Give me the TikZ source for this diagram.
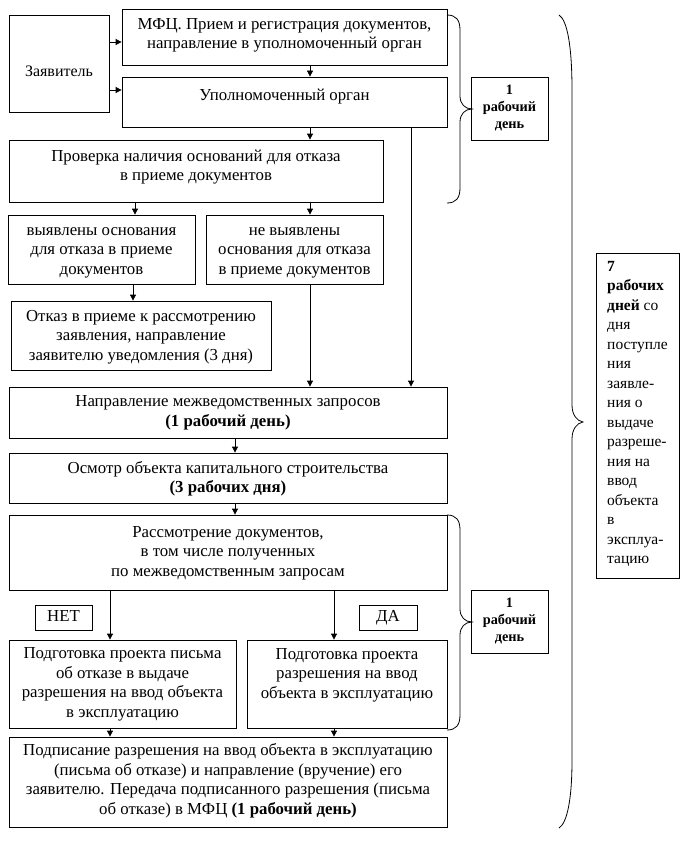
\documentclass[tikz,border=0pt]{standalone}
\usepackage{fontspec}
\setmainfont{Liberation Serif}
\usetikzlibrary{arrows.meta}
\newcommand\bx[7]{%
 \node[box, minimum width={(#4)-(#2)}, minimum height={(#5)-(#3)}] (#1) at ({((#2)+(#4))/2},{((#3)+(#5))/2}) {};
 \node[txt] (#1t) at ({((#2)+(#4))/2},#6) {#7};}
\begin{document}
\begin{tikzpicture}[x=1pt,y=-1pt,
 box/.style={draw, line width=0.8pt, inner sep=0pt},
 txt/.style={align=center, inner sep=0pt, font=\fontsize{16.8}{19.5}\selectfont},
 dtxt/.style={align=center, inner sep=0pt, font=\fontsize{14.3}{17}\selectfont\bfseries},
 stxt/.style={align=left, inner sep=0pt, font=\fontsize{15.5}{19.5}\selectfont},
 arr/.style={line width=0.8pt, -{Triangle[length=6pt,width=6pt]}},
 ln/.style={line width=0.8pt}]
\useasboundingbox[fill=white] (0,0) rectangle (692,843);

\bx{zay}{9}{15}{109}{112}{71}{\fontsize{16}{19.5}\selectfont Заявитель}
\bx{mfc}{122}{9}{447}{65}{35.5}{МФЦ. Прием и регистрация документов,\\направление в уполномоченный орган}
\bx{upo}{122}{77}{447}{127}{97}{Уполномоченный орган}
\bx{prov}{9}{140}{383}{202}{167}{Проверка наличия оснований для отказа\\в приеме документов}
\bx{yes}{8}{215}{195}{284}{252.5}{выявлены основания\\для отказа в приеме\\документов}
\bx{no}{206}{215}{383}{284}{252.5}{не выявлены\\основания для отказа\\в приеме документов}
\bx{otk}{11}{301}{271}{370}{337}{Отказ в приеме к рассмотрению\\заявления, направление\\заявителю уведомления (3 дня)}
\bx{napr}{9}{387}{447}{438}{413}{Направление межведомственных запросов\\\textbf{(1 рабочий день)}}
\bx{osm}{9}{453}{447}{503}{479}{Осмотр объекта капитального строительства\\\textbf{(3 рабочих дня)}}
\bx{rass}{9}{515}{447}{590}{553}{Рассмотрение документов,\\в том числе полученных\\по межведомственным запросам}
\bx{net}{35}{605}{92}{630}{618}{\strut НЕТ}
\bx{da}{359}{605}{417}{630}{618}{\strut ДА}
\bx{pl}{9}{640}{236}{728}{684.5}{Подготовка проекта письма\\об отказе в выдаче\\разрешения на ввод объекта\\в эксплуатацию}
\bx{pr}{247}{640}{447}{728}{675}{Подготовка проекта\\разрешения на ввод\\объекта в эксплуатацию}
\bx{pod}{9}{737}{447}{827}{781}{Подписание разрешения на ввод объекта в эксплуатацию\\(письма об отказе) и направление (вручение) его\\заявителю. Передача подписанного разрешения (письма\\об отказе) в МФЦ \textbf{(1 рабочий день)}}

\node[box, minimum width=77, minimum height=63] (d1) at (509.5,108.5) {};
\node[dtxt] (d1t) at (509.5,108) {1\\рабочий\\день};
\node[box, minimum width=77, minimum height=63] (d2) at (509.5,621.5) {};
\node[dtxt] (d2t) at (509.5,621) {1\\рабочий\\день};

\node[box, minimum width=83, minimum height=325] (seven) at (637.5,415.5) {};
\node[stxt, anchor=west] (sevent) at (607,414) {\textbf{7}\\\textbf{рабочих}\\\textbf{дней} со\\дня\\поступле\\ния\\заявле-\\ния о\\выдаче\\разреше-\\ния на\\ввод\\объекта\\в\\эксплуа-\\тацию};

\coordinate (y42) at (0,42);
\coordinate (y90) at (0,90);
\coordinate (x110) at (110,0);
\coordinate (x133) at (133,0);
\coordinate (x135) at (135,0);
\coordinate (x235) at (235,0);
\coordinate (x310) at (310,0);
\coordinate (x334) at (334,0);
\coordinate (x411) at (411,0);

\draw[arr] (zay.east |- y42) -- (mfc.west |- y42);
\draw[arr] (zay.east |- y90) -- (upo.west |- y90);
\draw[arr] (mfc.south -| x310) -- (upo.north -| x310);
\draw[arr] (upo.south -| x310) -- (prov.north -| x310);
\draw[arr] (upo.south -| x411) -- (napr.north -| x411);
\draw[arr] (prov.south -| x135) -- (yes.north -| x135);
\draw[arr] (prov.south -| x310) -- (no.north -| x310);
\draw[arr] (yes.south -| x133) -- (otk.north -| x133);
\draw[arr] (no.south -| x310) -- (napr.north -| x310);
\draw[arr] (napr.south -| x235) -- (osm.north -| x235);
\draw[arr] (osm.south -| x235) -- (rass.north -| x235);
\draw[arr] (rass.south -| x110) -- (pl.north -| x110);
\draw[arr] (rass.south -| x334) -- (pr.north -| x334);
\draw[arr] (pl.south -| x110) -- (pod.north -| x110);
\draw[arr] (pr.south -| x334) -- (pod.north -| x334);

\draw[ln] (447,15) .. controls (456,15) and (460,20) .. (460,30) -- (460,96) .. controls (460,104) and (465,109) .. (472,109) .. controls (465,109) and (460,114) .. (460,122) -- (460,188) .. controls (460,198) and (456,203) .. (447,203);
\draw[ln] (447,515) .. controls (456,515) and (460,520) .. (460,530) -- (460,609) .. controls (460,617) and (465,622) .. (472,622) .. controls (465,622) and (460,627) .. (460,635) -- (460,715) .. controls (460,725) and (456,730) .. (447,730);
\draw[ln] (559,15) .. controls (567,20) and (572,45) .. (572,90) -- (572,405) .. controls (572,415) and (577,421) .. (583,422) .. controls (577,423) and (572,429) .. (572,439) -- (572,760) .. controls (572,800) and (567,823) .. (559,828);
\end{tikzpicture}
\end{document}
